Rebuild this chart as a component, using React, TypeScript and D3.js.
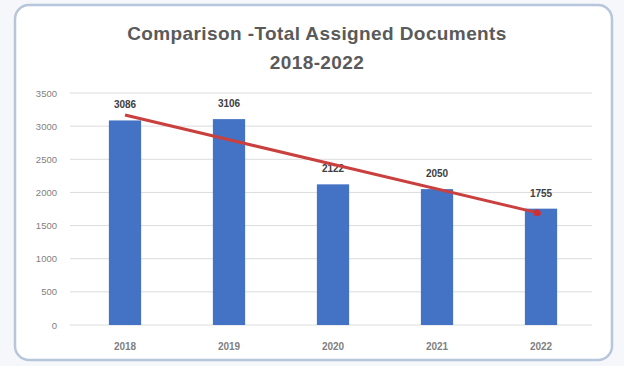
import React from "react";
import * as d3 from "d3";

const years = ["2018", "2019", "2020", "2021", "2022"];
const documents = [3086, 3106, 2122, 2050, 1755];
const yTicks = [0, 500, 1000, 1500, 2000, 2500, 3000, 3500];
const titleLines = ["Comparison -Total Assigned Documents", "2018-2022"];

const W = 624;
const H = 366;
const font = "'Liberation Sans', Arial, sans-serif";

export default function App() {
  const x = d3.scaleBand<string>().domain(years).range([73, 593]).paddingInner(0.69).paddingOuter(0.345);
  const y = d3.scaleLinear().domain([0, 3500]).range([325, 93]);

  // linear trendline (least squares) from the data
  const n = documents.length;
  const xs = documents.map((_, i) => i);
  const mx = d3.mean(xs)!;
  const my = d3.mean(documents)!;
  const slope =
    d3.sum(xs.map((xi, i) => (xi - mx) * (documents[i] - my))) /
    d3.sum(xs.map((xi) => (xi - mx) ** 2));
  const intercept = my - slope * mx;
  const cx = (i: number) => x(years[i])! + x.bandwidth() / 2;
  const trend = d3.line<number>().x((i) => cx(i)).y((i) => y(intercept + slope * i));
  const trendPts = [0, n - 1];

  return (
    <div style={{ position: "absolute", left: 0, top: 0 }}>
      <svg width={W} height={H} style={{ display: "block", fontFamily: font }}>
        <rect x={0} y={0} width={W} height={H} fill="#f5f7fa" />
        <rect x={15} y={5} width={597} height={355} rx={14} fill="#ffffff" stroke="#b7c6da" strokeWidth={2.5} />
        {titleLines.map((t, i) => (
          <text key={i} x={317} y={40 + i * 29} textAnchor="middle" fontSize={19} fontWeight="bold" letterSpacing={0.4} fill="#5a5a5a">
            {t}
          </text>
        ))}
        {yTicks.map((t) => (
          <g key={t}>
            <line x1={70} x2={592} y1={y(t)} y2={y(t)} stroke="#dcdcdc" strokeWidth={1} />
            <text x={57} y={y(t) + 3.5} textAnchor="end" fontSize={9.5} fill="#7f7f7f">
              {t}
            </text>
          </g>
        ))}
        {years.map((yr, i) => (
          <g key={yr}>
            <rect x={x(yr)} y={y(documents[i])} width={x.bandwidth()} height={y(0) - y(documents[i])} fill="#4472c4" />
            <text x={cx(i)} y={y(documents[i]) - 12} textAnchor="middle" fontSize={10} fontWeight="bold" fill="#404040">
              {documents[i]}
            </text>
            <text x={cx(i)} y={350} textAnchor="middle" fontSize={10} fontWeight="bold" fill="#7f7f7f">
              {yr}
            </text>
          </g>
        ))}
        <path d={trend(trendPts) || ""} stroke="#c9403e" strokeWidth={3} fill="none" />
        <circle cx={cx(n - 1) - 4} cy={y(intercept + slope * (n - 1.04))} r={3.5} fill="#c9303a" />
      </svg>
    </div>
  );
}
